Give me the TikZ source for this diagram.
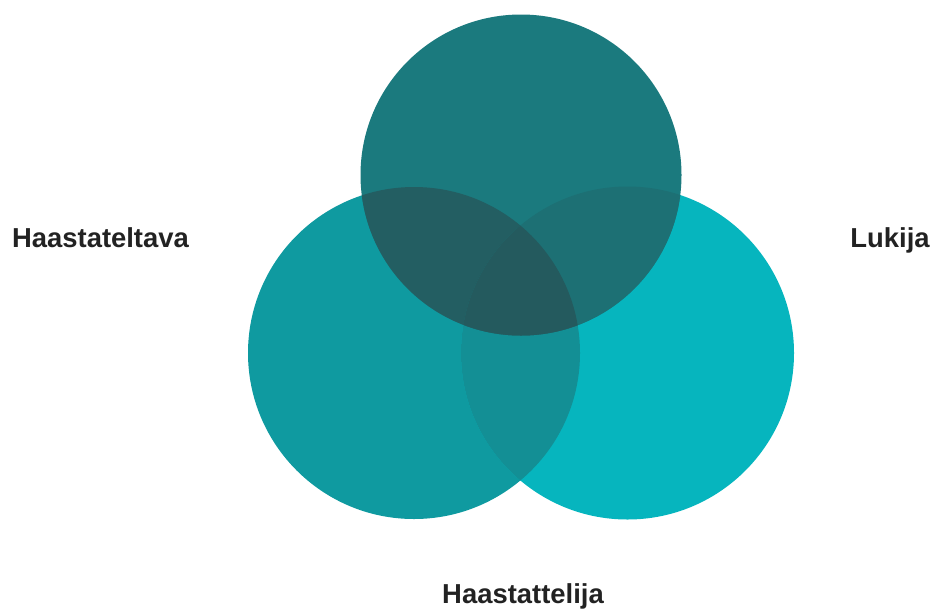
\documentclass[tikz,border=0pt]{standalone}
\usepackage{fontspec}
\setmainfont{Liberation Sans}
\definecolor{leftc}{HTML}{0F9AA0}
\definecolor{rightc}{HTML}{06B5BE}
\definecolor{topc}{HTML}{1B7A7E}
\definecolor{lrc}{HTML}{138F95}
\definecolor{tlc}{HTML}{235E62}
\definecolor{trc}{HTML}{1D7074}
\definecolor{allc}{HTML}{245A5E}
\definecolor{textc}{HTML}{222222}
\begin{document}
\begin{tikzpicture}[
    x=0.03cm, y=-0.03cm,
    label/.style={anchor=base, text=textc, font=\fontsize{23.4}{28}\selectfont\bfseries, inner sep=0pt}
]
\useasboundingbox (0,0) rectangle (933,608);

% Centres
\coordinate (interviewee) at (414,353);
\coordinate (reader) at (627.5,353);
\coordinate (interviewer) at (521,175);

% Circles
\fill[leftc] (interviewee) circle (166);
\fill[rightc] (reader) circle (166.5);
\fill[topc] (interviewer) circle (160.5);

% Overlaps
\begin{scope}
  \clip (interviewee) circle (166);
  \fill[lrc] (reader) circle (166.5);
  \fill[tlc] (interviewer) circle (160.5);
\end{scope}
\begin{scope}
  \clip (reader) circle (166.5);
  \fill[trc] (interviewer) circle (160.5);
  \clip (interviewee) circle (166);
  \fill[allc] (interviewer) circle (160.5);
\end{scope}

% Labels
\node[label] (haastateltava) at (100.5,247) {Haastateltava};
\node[label] (lukija) at (890,247) {Lukija};
\node[label] (haastattelija) at (523,603) {Haastattelija};

\end{tikzpicture}
\end{document}
